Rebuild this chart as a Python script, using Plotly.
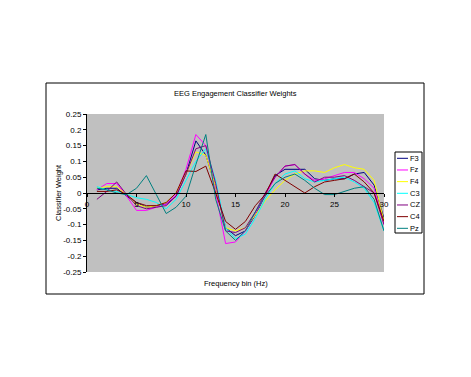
import plotly.graph_objects as go

bins = list(range(1, 31))
series_names = ["F3", "Fz", "F4", "C3", "CZ", "C4", "Pz"]
colors = ["#000080", "#FF00FF", "#FFFF00", "#00FFFF", "#800080", "#800000", "#008080"]

F3 = [0.01, 0.015, 0.015, -0.01, -0.03, -0.045, -0.04, -0.035, -0.01, 0.06, 0.165, 0.12, 0.02, -0.11, -0.135, -0.12, -0.07, -0.01, 0.055, 0.075, 0.075, 0.075, 0.045, 0.04, 0.045, 0.045, 0.06, 0.065, 0.025, -0.08]
Fz = [0.01, 0.03, 0.03, -0.01, -0.055, -0.055, -0.045, -0.035, -0.005, 0.075, 0.185, 0.15, 0.0, -0.16, -0.155, -0.12, -0.065, -0.005, 0.05, 0.085, 0.09, 0.06, 0.04, 0.045, 0.055, 0.065, 0.065, 0.045, 0.015, -0.1]
F4 = [0.015, 0.02, 0.02, -0.005, -0.035, -0.045, -0.04, -0.03, 0.0, 0.06, 0.13, 0.12, 0.02, -0.11, -0.12, -0.11, -0.07, -0.025, 0.01, 0.04, 0.06, 0.07, 0.07, 0.065, 0.08, 0.09, 0.08, 0.075, 0.04, -0.09]
C3 = [0.02, 0.01, 0.005, -0.005, -0.015, -0.02, -0.03, -0.05, -0.02, 0.04, 0.1, 0.14, 0.04, -0.11, -0.145, -0.13, -0.08, -0.02, 0.03, 0.06, 0.07, 0.045, 0.035, 0.04, 0.045, 0.05, 0.035, 0.015, -0.03, -0.12]
CZ = [-0.02, 0.005, 0.035, -0.005, -0.04, -0.05, -0.045, -0.04, -0.01, 0.06, 0.14, 0.15, 0.03, -0.12, -0.125, -0.11, -0.06, 0.0, 0.05, 0.085, 0.09, 0.06, 0.035, 0.05, 0.05, 0.055, 0.04, 0.02, 0.0, -0.1]
C4 = [0.005, 0.005, 0.01, -0.005, -0.03, -0.04, -0.04, -0.03, 0.0, 0.07, 0.068, 0.085, 0.0, -0.09, -0.115, -0.09, -0.04, -0.005, 0.06, 0.04, 0.02, 0.0, 0.02, 0.035, 0.04, 0.045, 0.06, 0.035, 0.0, -0.09]
Pz = [0.015, 0.01, 0.0, -0.005, 0.015, 0.055, -0.005, -0.065, -0.045, -0.01, 0.09, 0.185, -0.02, -0.12, -0.15, -0.12, -0.06, -0.01, 0.03, 0.05, 0.06, 0.04, 0.015, -0.005, -0.005, 0.005, 0.015, 0.02, -0.02, -0.12]

y_tickvals = [0.25, 0.2, 0.15, 0.1, 0.05, 0, -0.05, -0.1, -0.15, -0.2, -0.25]
y_ticktext = ["0.25", "0.2", "0.15", "0.1", "0.05", "0", "-0.05", "-0.1", "-0.15", "-0.2", "-0.25"]
x_tickvals = [0, 5, 10, 15, 20, 25, 30]
x_ticktext = ["0", "5", "10", "15", "20", "25", "30"]

title_text = "EEG Engagement Classifier Weights"
x_title = "Frequency bin (Hz)"
y_title = "Classifier Weight"

FONT = "Liberation Sans, Arial, sans-serif"

fig = go.Figure()
all_series = [F3, Fz, F4, C3, CZ, C4, Pz]
for name, col, vals in zip(series_names, colors, all_series):
    fig.add_trace(go.Scatter(x=bins, y=vals, mode="lines", name=name,
                             line=dict(color=col, width=1), showlegend=False))

# the page body adds an 8px offset; compensate
OFF = 8
W, H = 471 - OFF, 377 - OFF
L, R, T, B = 87, 384, 114, 272  # target screen coords of plot area
pw, ph = R - L, B - T

def px(xp):
    return (xp - L) / pw

def py(yp):
    return (B - yp) / ph

shapes = []
annotations = []
# outer chart frame
shapes.append(dict(type="rect", xref="paper", yref="paper",
                   x0=px(46), x1=px(424), y0=py(294), y1=py(83),
                   line=dict(color="black", width=1), fillcolor="rgba(0,0,0,0)", layer="below"))
# legend box
shapes.append(dict(type="rect", xref="paper", yref="paper",
                   x0=px(395), x1=px(422), y0=py(233), y1=py(152),
                   line=dict(color="black", width=1), fillcolor="white"))
for i, (name, col) in enumerate(zip(series_names, colors)):
    yy = 158.3 + i * 11.67
    shapes.append(dict(type="line", xref="paper", yref="paper",
                       x0=px(397), x1=px(408), y0=py(yy), y1=py(yy),
                       line=dict(color=col, width=1)))
    annotations.append(dict(xref="paper", yref="paper", x=px(408.5), y=py(yy),
                            text=name, showarrow=False, xanchor="left", yanchor="middle",
                            font=dict(size=7.5, color="black", family=FONT)))

annotations.append(dict(xref="paper", yref="paper", x=px(235.5), y=py(93),
                        text=title_text, showarrow=False, xanchor="center", yanchor="middle",
                        font=dict(size=7.5, color="black", family=FONT)))
annotations.append(dict(xref="paper", yref="paper", x=px(236), y=py(283),
                        text=x_title, showarrow=False, xanchor="center", yanchor="middle",
                        font=dict(size=7.5, color="black", family=FONT)))
annotations.append(dict(xref="paper", yref="paper", x=px(58), y=py(193),
                        text=y_title, showarrow=False, xanchor="center", yanchor="middle",
                        textangle=-90, font=dict(size=7.5, color="black", family=FONT)))

fig.update_layout(
    width=W, height=H,
    margin=dict(l=L - OFF, r=W - (R - OFF), t=T - OFF, b=H - (B - OFF), pad=0),
    paper_bgcolor="white", plot_bgcolor="#C0C0C0",
    showlegend=False,
    shapes=shapes, annotations=annotations,
    font=dict(family=FONT, size=8, color="black"),
    xaxis=dict(range=[0, 30], tickvals=x_tickvals, ticktext=x_ticktext,
               showgrid=False, zeroline=False, showline=True, linecolor="black", linewidth=1,
               anchor="free", position=0.5, ticks="outside", ticklen=3, tickcolor="black",
               tickfont=dict(size=8, family=FONT)),
    yaxis=dict(range=[-0.25, 0.25], tickvals=y_tickvals, ticktext=y_ticktext,
               showgrid=False, zeroline=False, showline=True, linecolor="black", linewidth=1,
               ticks="outside", ticklen=3, tickcolor="black",
               tickfont=dict(size=8, family=FONT)),
)

fig.write_html("out.html")
